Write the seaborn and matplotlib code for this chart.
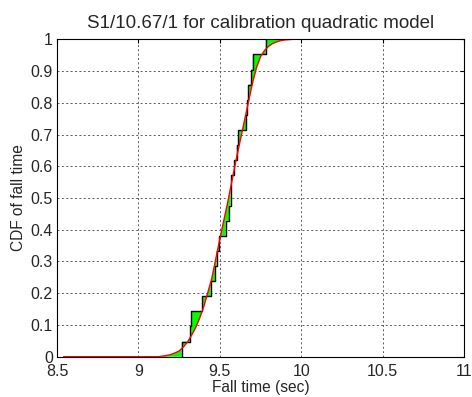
import numpy as np
import pandas as pd
import matplotlib as mpl
mpl.use('Agg')
import matplotlib.pyplot as plt
import seaborn as sns

# observed fall times (sec), read from the step heights (21 samples)
fall_times = [9.266, 9.317, 9.323, 9.392, 9.444, 9.470, 9.480, 9.495, 9.536,
              9.558, 9.566, 9.571, 9.589, 9.604, 9.614, 9.662, 9.668, 9.675,
              9.692, 9.702, 9.782]

# model CDF (red curve)
model_x = [8.54, 9.10, 9.125, 9.15, 9.175, 9.20, 9.225, 9.25, 9.275, 9.30,
           9.325, 9.35, 9.375, 9.40, 9.45, 9.50, 9.55, 9.60, 9.65, 9.70,
           9.725, 9.75, 9.775, 9.80, 9.825, 9.85, 9.875, 9.90, 9.95, 11.0]
model_cdf = [0.0, 0.0, 0.0, 0.002, 0.004, 0.007, 0.012, 0.018, 0.030, 0.045,
             0.066, 0.090, 0.120, 0.155, 0.245, 0.370, 0.490, 0.620, 0.740, 0.860,
             0.910, 0.945, 0.965, 0.978, 0.987, 0.992, 0.996, 0.998, 1.0, 1.0]

xticks = [8.5, 9, 9.5, 10, 10.5, 11]
xticklabels = ['8.5', '9', '9.5', '10', '10.5', '11']
yticks = [0, 0.1, 0.2, 0.3, 0.4, 0.5, 0.6, 0.7, 0.8, 0.9, 1]
yticklabels = ['0', '0.1', '0.2', '0.3', '0.4', '0.5', '0.6', '0.7', '0.8', '0.9', '1']

df = pd.DataFrame({'t': fall_times})
model = pd.DataFrame({'t': model_x, 'cdf': model_cdf})

sns.set_style('white')
plt.rcParams['font.family'] = ['Liberation Sans', 'DejaVu Sans']

fig = plt.figure(figsize=(4.72, 3.97), dpi=100)
ax = fig.add_axes([0.1208, 0.1015, 0.8622, 0.7995])

# green area between empirical steps and model curve
srt = np.sort(np.array(fall_times))
n = len(srt)
step_x = [model_x[0]]
step_y = [0.0]
for i, v in enumerate(srt):
    step_x += [v, v]
    step_y += [i / n, (i + 1) / n]
step_x.append(model_x[-1])
step_y.append(1.0)
poly_x = step_x + model_x[::-1]
poly_y = step_y + model_cdf[::-1]
ax.fill(poly_x, poly_y, color='#00ff00', lw=0, zorder=2)

sns.ecdfplot(data=df, x='t', ax=ax, color='black', lw=1.0, zorder=3)
sns.lineplot(data=model, x='t', y='cdf', ax=ax, color='#ff0000', lw=1.0,
             zorder=4, estimator=None, sort=False)

ax.set_xlim(8.5, 11)
ax.set_ylim(0, 1)
ax.set_xticks(xticks)
ax.set_xticklabels(xticklabels)
ax.set_yticks(yticks)
ax.set_yticklabels(yticklabels)
ax.grid(True, color='0.35', linestyle=(0, (2, 2.5)), lw=0.7)
ax.tick_params(direction='in', length=3, top=True, right=True,
               labelsize=11.5, pad=3, color='black')
ax.tick_params(axis='x', pad=5.5)
for s in ax.spines.values():
    s.set_color('black')
    s.set_linewidth(0.8)
    s.set_zorder(5)

ax.set_xlabel('Fall time (sec)', fontsize=11.2, labelpad=0.5)
ax.set_ylabel('CDF of fall time', fontsize=11.2, labelpad=3)
ax.set_title('S1/10.67/1 for calibration quadratic model', fontsize=13.5, pad=8)

fig.savefig('out.png', dpi=100)
